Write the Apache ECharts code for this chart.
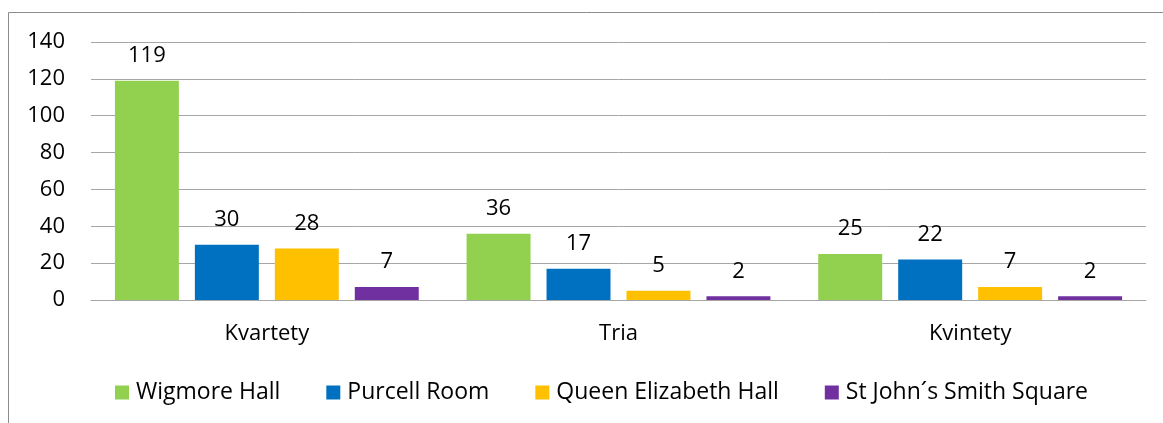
<!DOCTYPE html>
<html>
<head>
<meta charset="utf-8">
<script src="https://cdn.jsdelivr.net/npm/echarts@6/dist/echarts.min.js"></script>
<style>
  html, body { margin: 0; padding: 0; background: #fff; }
  #main { width: 1163px; height: 423px; }
</style>
</head>
<body>
<div id="main"></div>
<script>
var categories = ['Kvartety', 'Tria', 'Kvintety'];
var seriesNames = ['Wigmore Hall', 'Purcell Room', 'Queen Elizabeth Hall', 'St John´s Smith Square'];
var wigmore = [119, 36, 25];
var purcell = [30, 17, 22];
var queenElizabeth = [28, 5, 7];
var stJohns = [7, 2, 2];
var colors = ['#92D050', '#0070C0', '#FFC000', '#7030A0'];

var font = 'Open Sans, Noto Sans, sans-serif';
var fontSize = 22;
var myChart = echarts.init(document.getElementById('main'));

function makeSeries(name, data) {
    return {
        name: name,
        type: 'bar',
        data: data,
        barGap: '25%',
        barCategoryGap: '13.6%',
        label: {
            show: true,
            position: 'top',
            distance: 14,
            color: '#000',
            fontSize: fontSize,
            fontFamily: font
        }
    };
}

var option = {
    animation: false,
    color: colors,
    graphic: [{
        type: 'rect',
        shape: { x: 8.5, y: 12.5, width: 1170, height: 430 },
        style: { fill: 'none', stroke: '#8c8c8c', lineWidth: 1 },
        z: -10
    }],
    grid: {
        left: 91,
        right: 17,
        top: 42,
        bottom: 123
    },
    legend: {
        bottom: 14,
        left: 110,
        itemWidth: 14,
        itemHeight: 14,
        itemGap: 46,
        icon: 'rect',
        textStyle: { color: '#000', fontSize: 23, fontFamily: font, padding: [0, 0, 0, 2] }
    },
    xAxis: {
        type: 'category',
        data: categories,
        axisLine: { lineStyle: { color: '#a6a6a6', width: 1 } },
        axisTick: { show: false },
        axisLabel: { color: '#000', fontSize: fontSize, fontFamily: font, margin: 23 }
    },
    yAxis: {
        type: 'value',
        min: 0,
        max: 140,
        interval: 20,
        axisLine: { show: false },
        axisTick: { show: false },
        splitLine: { lineStyle: { color: '#a6a6a6', width: 1 } },
        axisLabel: { color: '#000', fontSize: fontSize, fontFamily: font, margin: 26 }
    },
    series: [
        makeSeries(seriesNames[0], wigmore),
        makeSeries(seriesNames[1], purcell),
        makeSeries(seriesNames[2], queenElizabeth),
        makeSeries(seriesNames[3], stJohns)
    ]
};
myChart.setOption(option);
</script>
</body>
</html>
